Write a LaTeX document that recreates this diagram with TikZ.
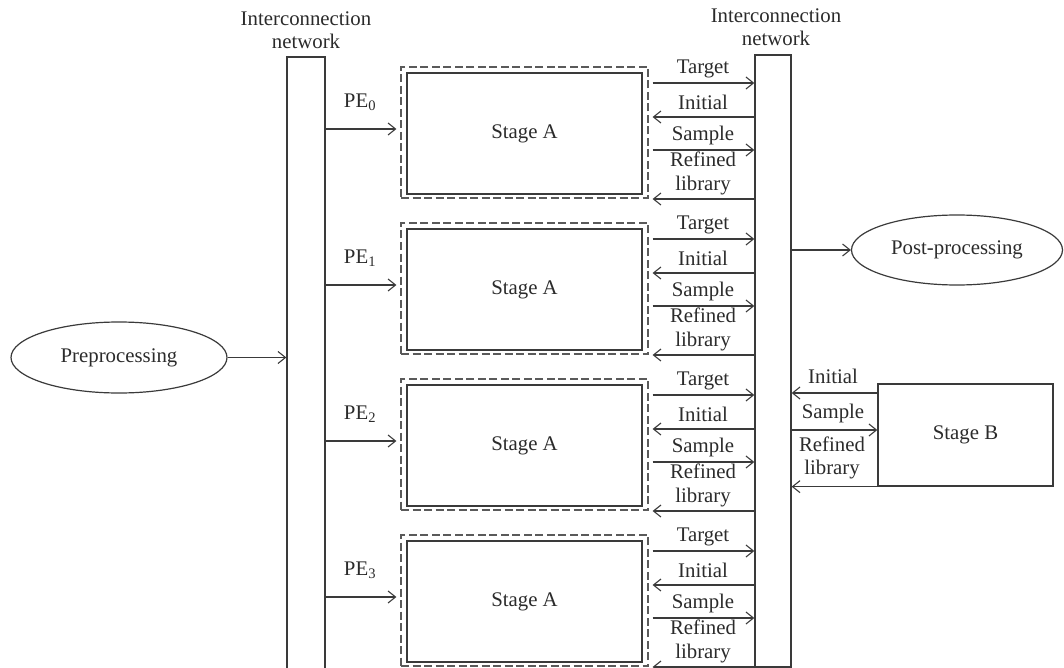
\documentclass[tikz,border=0pt]{standalone}
\usepackage{fontspec}
\setmainfont{Liberation Serif}
\usetikzlibrary{arrows.meta,shapes.geometric}
\definecolor{ink}{HTML}{2B2B2B}
\definecolor{edge}{HTML}{3A3A3A}
\definecolor{dashc}{HTML}{5A5A5A}
\begin{document}
\begin{tikzpicture}[x=1pt,y=-1pt,
  line width=1.2pt,
  txt/.style={font=\fontsize{20.8}{23.5}\selectfont, text=ink, inner sep=0pt, align=center},
  solid box/.style={draw=edge, line width=1.3pt, rectangle, inner sep=0pt},
  stagebox/.style={solid box, minimum width=235pt, minimum height=121pt, txt},
  wrapbox/.style={draw=dashc, line width=1.2pt, dash pattern=on 8pt off 3.5pt,
                  rectangle, inner sep=0pt, minimum width=247pt, minimum height=131pt},
  bar/.style={solid box},
  oval/.style={draw=edge, line width=1.2pt, ellipse, inner sep=0pt, txt},
  arr/.style={draw=edge, line width=1.2pt,
              -{Straight Barb[length=7.5pt,width=12pt,line width=1.1pt]}}]

\useasboundingbox (0,0) rectangle (1064,668);

% the two interconnection networks
\node[bar, minimum width=38pt, minimum height=620pt] (lbar) at (306,367) {};
\node[bar, minimum width=36pt, minimum height=612pt] (rbar) at (773,361) {};
\node[txt] (lnet) at (306,30) {Interconnection\\network};
\node[txt] (rnet) at (776,27) {Interconnection\\network};

% pre- and post-processing
\node[oval, minimum width=216pt, minimum height=71pt] (pre) at (119,357.5) {Preprocessing};
\node[oval, minimum width=211pt, minimum height=70pt] (post) at (957,250) {Post-processing};
\draw[arr] (pre.east) -- (lbar.west |- pre.east);
\draw[arr] (rbar.east |- post.west) -- (post.west);

% four processing elements running stage A
\foreach \i in {0,1,2,3}{
  \pgfmathsetmacro{\T}{67+156*\i}
  \node[wrapbox] (w\i) at (524.5,\T+65.5) {};
  \node[stagebox] (s\i) at (524.5,\T+66.5) {Stage A};
  \node[txt] (pe\i) at (360,\T+35) {PE\textsubscript{\i}};
  \coordinate (pa\i) at (360,\T+62);
  \draw[arr] (lbar.east |- pa\i) -- ([xshift=-4pt]w\i.west |- pa\i);
  % exchange with the right network
  \coordinate (tg\i) at (700,\T+16);
  \coordinate (in\i) at (700,\T+50);
  \coordinate (sa\i) at (700,\T+83);
  \coordinate (rf\i) at (700,\T+132);
  \draw[arr] ([xshift=4pt]w\i.east |- tg\i) -- (rbar.west |- tg\i);
  \draw[arr] (rbar.west |- in\i) -- ([xshift=4pt]w\i.east |- in\i);
  \draw[arr] ([xshift=4pt]w\i.east |- sa\i) -- (rbar.west |- sa\i);
  \draw[arr] (rbar.west |- rf\i) -- ([xshift=4pt]w\i.east |- rf\i);
  \node[txt] (lt\i) at (703,\T+2) {Target};
  \node[txt] (li\i) at (703,\T+35) {Initial};
  \node[txt] (ls\i) at (703,\T+68) {Sample};
  \node[txt] (lr\i) at (703,\T+106.5) {Refined\\library};
}

% stage B
\node[solid box, minimum width=175pt, minimum height=102pt, txt] (sb) at (965.5,435) {Stage B};
\coordinate (bi) at (830,393);
\coordinate (bs) at (830,430);
\draw[arr] (sb.west |- bi) -- (rbar.east |- bi);
\draw[arr] (rbar.east |- bs) -- (sb.west |- bs);
\draw[arr] (sb.south west) -- (rbar.east |- sb.south west);
\node[txt] (bli) at (833,376) {Initial};
\node[txt] (bls) at (833,413) {Sample};
\node[txt] (blr) at (832,458) {Refined\\library};

\end{tikzpicture}
\end{document}
